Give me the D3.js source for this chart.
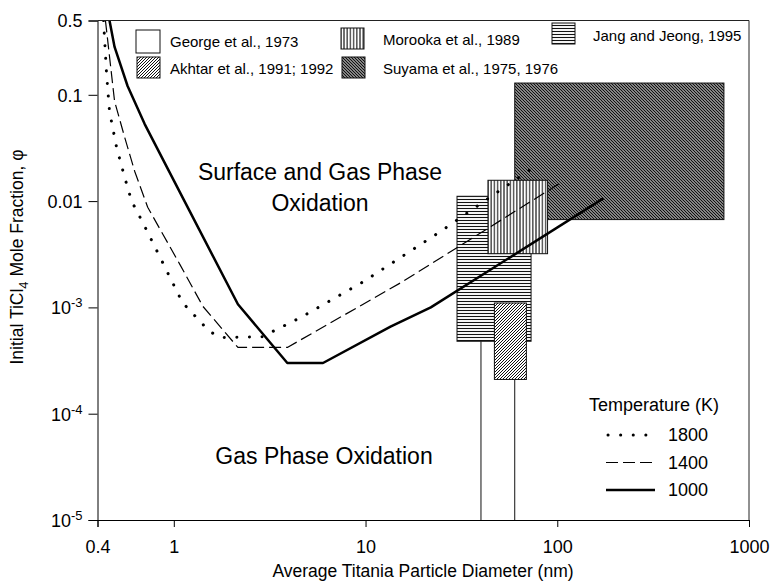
<!DOCTYPE html>
<html>
<head>
<meta charset="utf-8">
<script src="https://cdn.jsdelivr.net/npm/d3@7"></script>
<style>
  body { margin: 0; background: #fff; }
  svg { font-family: "Liberation Sans", Arial, sans-serif; }
</style>
</head>
<body>
<div id="chart"></div>
<script>
/* DATA */
const studies = ["George et al., 1973", "Akhtar et al., 1991; 1992", "Morooka et al., 1989",
                 "Suyama et al., 1975, 1976", "Jang and Jeong, 1995"]
const studyPattern = ["none", "hatch-fwd", "hatch-vert", "hatch-back", "hatch-horiz"]
const studyDmin = [40, 47, 43.5, 60, 30]
const studyDmax = [60, 69, 89, 740, 73]
const studyPhiMin = [1e-6, 2.1e-4, 3.2e-3, 6.7e-3, 4.8e-4]
const studyPhiMax = [1e-3, 1.1e-3, 0.0157, 0.129, 0.0111]
const drawOrder = [0, 4, 3, 2, 1]

const temps = [1800, 1400, 1000]
const d1800 = [0.43, 0.446, 0.462, 0.503, 0.554, 0.603, 0.689, 1.11, 1.54, 1.78, 2.89, 4.57, 9.77, 24.7, 52.1, 73]
const phi1800 = [0.5, 0.157, 0.070, 0.032, 0.0168, 0.00995, 0.0063, 1.11e-3, 5.9e-4, 5.2e-4, 5.3e-4, 8.0e-4, 1.75e-3, 5.2e-3, 0.0132, 0.02]
const d1400 = [0.44, 0.491, 0.554, 0.625, 0.731, 1.075, 1.42, 2.16, 3.91, 15.3, 45.1, 105]
const phi1400 = [0.5, 0.087, 0.040, 0.0191, 0.00875, 2.54e-3, 1.02e-3, 4.2e-4, 4.2e-4, 1.71e-3, 5.78e-3, 0.015]
const d1000 = [0.462, 0.491, 0.574, 0.705, 0.865, 1.13, 2.16, 3.91, 6.0, 13.5, 21.9, 174]
const phi1000 = [0.5, 0.282, 0.121, 0.053, 0.0259, 0.0102, 1.07e-3, 3.0e-4, 3.0e-4, 6.6e-4, 1.0e-3, 0.0106]

const xTicks = [0.4, 1, 10, 100, 1000]
const xTickLabels = ["0.4", "1", "10", "100", "1000"]
const yTicks = [0.5, 0.1, 0.01, 1e-3, 1e-4, 1e-5]
const yTickLabels = [["0.5"], ["0.1"], ["0.01"], ["10", "-3"], ["10", "-4"], ["10", "-5"]]

const W = 771, H = 583
const plotLeft = 97.5, plotRight = 749, plotTop = 20.5, plotBottom = 520

const svg = d3.select("#chart").append("svg")
    .attr("width", W)
    .attr("height", H)

const x = d3.scaleLog().domain([0.4, 1000]).range([plotLeft, plotRight])
const y = d3.scaleLog().domain([1e-5, 0.5]).range([plotBottom, plotTop])

/* PATTERNS */
const defs = svg.append("defs")
function addPattern(id, size, lines, width) {
    const p = defs.append("pattern")
        .attr("id", id)
        .attr("patternUnits", "userSpaceOnUse")
        .attr("width", size)
        .attr("height", size)
    p.append("rect").attr("width", size).attr("height", size).attr("fill", "#fff")
    lines.forEach(l => p.append("line")
        .attr("x1", l[0]).attr("y1", l[1]).attr("x2", l[2]).attr("y2", l[3])
        .attr("stroke", "#111").attr("stroke-width", width))
}
addPattern("hatch-horiz", 3, [[0, 1.5, 3, 1.5]], 1.1)
addPattern("hatch-vert", 3.2, [[1.6, 0, 1.6, 3.2]], 1.1)
addPattern("hatch-fwd", 3, [[0, 3, 3, 0], [-1, 1, 1, -1], [2, 4, 4, 2]], 1)
addPattern("hatch-back", 3, [[0, 0, 3, 3], [-1.5, 1.5, 1.5, 4.5], [1.5, -1.5, 4.5, 1.5]], 1.5)

defs.append("clipPath").attr("id", "plot-clip")
    .append("rect")
    .attr("x", plotLeft).attr("y", plotTop)
    .attr("width", plotRight - plotLeft).attr("height", plotBottom - plotTop)

const fillOf = i => studyPattern[i] === "none" ? "#fff" : `url(#${studyPattern[i]})`

/* RECTANGLES */
const plot = svg.append("g").attr("clip-path", "url(#plot-clip)")
plot.selectAll(".study")
    .data(drawOrder)
    .enter()
    .append("rect")
    .attr("class", "study")
    .attr("x", i => x(studyDmin[i]))
    .attr("width", i => x(studyDmax[i]) - x(studyDmin[i]))
    .attr("y", i => y(studyPhiMax[i]))
    .attr("height", i => y(studyPhiMin[i]) - y(studyPhiMax[i]))
    .attr("fill", i => fillOf(i))
    .attr("stroke", "#111")
    .attr("stroke-width", 1)

/* CURVES */
const curveStyles = {
    1800: { width: 3, dash: "0.1,12.5", cap: "round" },
    1400: { width: 1.2, dash: "12,5", cap: "butt" },
    1000: { width: 2.5, dash: null, cap: "butt" }
}
const curveData = {
    1800: d1800.map((d, i) => [d, phi1800[i]]),
    1400: d1400.map((d, i) => [d, phi1400[i]]),
    1000: d1000.map((d, i) => [d, phi1000[i]])
}
const line = d3.line().x(d => x(d[0])).y(d => y(d[1]))
temps.forEach(t => {
    plot.append("path")
        .datum(curveData[t])
        .attr("d", line)
        .attr("fill", "none")
        .attr("stroke", "#000")
        .attr("stroke-width", curveStyles[t].width)
        .attr("stroke-dasharray", curveStyles[t].dash)
        .attr("stroke-linecap", curveStyles[t].cap)
        .attr("stroke-linejoin", "round")
})

/* AXES */
const xAxis = svg.append("g")
    .attr("transform", `translate(0, ${plotBottom})`)
    .call(d3.axisBottom(x).tickValues(xTicks).tickSize(7).tickFormat((d, i) => xTickLabels[i]))
xAxis.selectAll("text")
    .attr("font-size", 18).attr("font-family", null)
    .attr("y", 33).attr("dy", null).attr("fill", "#000")

const yAxis = svg.append("g")
    .attr("transform", `translate(${plotLeft}, 0)`)
    .call(d3.axisLeft(y).tickValues(yTicks).tickSize(9).tickFormat(""))
yAxis.selectAll(".tick").append("text")
    .attr("x", -15)
    .attr("dy", "0.35em")
    .attr("text-anchor", "end")
    .attr("font-size", 18)
    .attr("fill", "#000")
    .each(function (d, i) {
        const lab = yTickLabels[i]
        const t = d3.select(this)
        t.append("tspan").text(lab[0])
        if (lab[1]) t.append("tspan").attr("dy", -7).attr("font-size", 13).text(lab[1])
    })
svg.selectAll(".domain").attr("stroke", "#000")
svg.selectAll(".tick line").attr("stroke", "#000")

/* FRAME */
svg.append("line").attr("x1", plotLeft).attr("x2", plotRight).attr("y1", plotTop).attr("y2", plotTop)
    .attr("stroke", "#222").attr("stroke-width", 1)
svg.append("line").attr("x1", plotRight).attr("x2", plotRight).attr("y1", plotTop).attr("y2", plotBottom)
    .attr("stroke", "#222").attr("stroke-width", 1)

/* AXIS LABELS */
svg.append("text")
    .attr("x", 423).attr("y", 577)
    .attr("text-anchor", "middle").attr("font-size", 17.5)
    .text("Average Titania Particle Diameter (nm)")

const yl = svg.append("text")
    .attr("transform", "translate(23, 257) rotate(-90)")
    .attr("text-anchor", "middle").attr("font-size", 17.5)
yl.append("tspan").text("Initial TiCl")
yl.append("tspan").attr("dy", 5).attr("font-size", 13).text("4")
yl.append("tspan").attr("dy", -5).text(" Mole Fraction, φ")

/* REGION LABELS */
svg.append("text").attr("x", 320).attr("y", 180).attr("text-anchor", "middle")
    .attr("font-size", 23).text("Surface and Gas Phase")
svg.append("text").attr("x", 320).attr("y", 211).attr("text-anchor", "middle")
    .attr("font-size", 23).text("Oxidation")
svg.append("text").attr("x", 324).attr("y", 464).attr("text-anchor", "middle")
    .attr("font-size", 23).text("Gas Phase Oxidation")

/* STUDY LEGEND */
const legendPos = [[136, 30], [137, 57], [341, 28], [342, 57], [552, 23]]
const legendText = [[170, 42], [170, 69], [383, 40], [383, 69], [593, 36]]
const lg = svg.append("g")
studies.forEach((s, i) => {
    lg.append("rect")
        .attr("x", legendPos[i][0]).attr("y", legendPos[i][1])
        .attr("width", i === 0 ? 24 : 23).attr("height", i === 0 ? 23 : 21)
        .attr("fill", fillOf(i)).attr("stroke", "#111").attr("stroke-width", 1)
    lg.append("text")
        .attr("x", legendText[i][0]).attr("y", legendText[i][1])
        .attr("dy", "0.35em").attr("font-size", 15)
        .text(s)
})

/* TEMPERATURE LEGEND */
svg.append("text").attr("x", 589).attr("y", 405).attr("dy", "0.35em")
    .attr("font-size", 18).text("Temperature (K)")
temps.forEach((t, i) => {
    const ly = 435 + i * 27.5
    svg.append("line")
        .attr("x1", i === 0 ? 608 : 606).attr("x2", 655).attr("y1", ly).attr("y2", ly)
        .attr("stroke", "#000")
        .attr("stroke-width", curveStyles[t].width)
        .attr("stroke-dasharray", curveStyles[t].dash)
        .attr("stroke-linecap", curveStyles[t].cap)
    svg.append("text").attr("x", 668).attr("y", ly).attr("dy", "0.35em")
        .attr("font-size", 18).text(t)
})
</script>
</body>
</html>
